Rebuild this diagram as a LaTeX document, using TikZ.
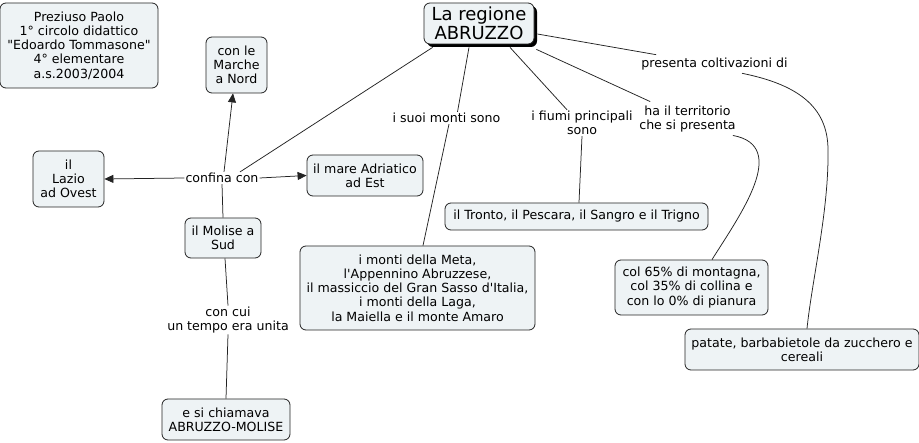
\documentclass[tikz,border=0pt]{standalone}
\usepackage{fontspec}
\setmainfont{DejaVu Sans}[Ligatures=TeXOff]
\usetikzlibrary{arrows.meta,shadows}
\definecolor{boxfill}{RGB}{238,243,245}
\definecolor{edgecol}{RGB}{35,35,35}
\newcommand\mapfont{\fontsize{12.6pt}{14.3pt}\selectfont}
\newcommand\titlefont{\fontsize{18pt}{19.5pt}\selectfont}
\begin{document}
\begin{tikzpicture}[x=1pt,y=-1pt,
  box/.style={draw=edgecol, fill=boxfill, rounded corners=6pt, line width=0.8pt, align=center, inner sep=2pt, font=\mapfont},
  lab/.style={align=center, inner sep=1pt, font=\mapfont},
  conn/.style={draw=edgecol, line width=0.75pt},
  arr/.style={conn, -{Triangle[length=9pt,width=8pt]}},
]
\useasboundingbox (0,0) rectangle (919,443);
\fill[white] (0,0) rectangle (919,443);

% concepts
\node[box, minimum width=158pt, minimum height=85pt] (prez) at (79,45.5) {Preziuso Paolo\\1° circolo didattico\\"Edoardo Tommasone"\\4° elementare\\a.s.2003/2004};
\node[box, minimum width=61pt, minimum height=56pt] (marche) at (236.5,65) {con le\\Marche\\a Nord};
\node[box, font=\titlefont, minimum width=110pt, minimum height=41pt,
  drop shadow={shadow xshift=3pt, shadow yshift=-3pt, fill=black, opacity=1}] (abr) at (479,23.5) {La regione\\ABRUZZO};
\node[box, minimum width=71pt, minimum height=56pt] (lazio) at (68.5,179) {il\\Lazio\\ad Ovest};
\node[box, minimum width=116pt, minimum height=41pt] (adriatico) at (365,175.5) {il mare Adriatico\\ad Est};
\node[box, minimum width=76pt, minimum height=40pt] (molise) at (223,238) {il Molise a\\Sud};
\node[box, minimum width=128pt, minimum height=41pt] (chiamava) at (226,419.5) {e si chiamava\\ABRUZZO-MOLISE};
\node[box, minimum width=235pt, minimum height=84pt] (montib) at (417.5,288) {i monti della Meta,\\l'Appennino Abruzzese,\\il massiccio del Gran Sasso d'Italia,\\i monti della Laga,\\la Maiella e il monte Amaro};
\node[box, minimum width=263pt, minimum height=27pt] (tronto) at (576.5,216.5) {il Tronto, il Pescara, il Sangro e il Trigno};
\node[box, minimum width=153pt, minimum height=55pt] (col65) at (691.5,287.5) {col 65\% di montagna,\\col 35\% di collina e\\con lo 0\% di pianura};
\node[box, minimum width=234pt, minimum height=41pt] (patate) at (802,349.5) {patate, barbabietole da zucchero e\\cereali};

% linking phrases
\node[lab] (confina) at (222,178) {confina con};
\node[lab] (concui) at (228,320) {con cui\\un tempo era unita};
\node[lab] (montil) at (446.5,118) {i suoi monti sono};
\node[lab] (fiumi) at (582,123) {i fiumi principali\\sono};
\node[lab] (terr) at (687.5,119) {ha il territorio\\che si presenta};
\node[lab] (colt) at (714.5,64) {presenta coltivazioni di};

% connectors
\draw[conn] ([xshift=9pt,yshift=-3pt]abr.south west) -- ([xshift=18pt]confina.north);
\draw[arr] ([xshift=2pt]confina.north) -- ([xshift=-3.5pt]marche.south);
\draw[arr] (confina.west) -- (lazio.east);
\draw[arr] (confina.east) -- (adriatico.west);
\draw[conn] (confina.south) -- (molise.north);
\draw[conn] ([xshift=2pt]molise.south) -- (concui.north);
\draw[conn] (concui.south) -- (chiamava.north);

\draw[conn] ([xshift=-10pt,yshift=-3pt]abr.south) -- ([xshift=11pt]montil.north);
\draw[conn] ([xshift=2.5pt]montil.south) -- ([xshift=5.5pt]montib.north);
\draw[conn] ([xshift=31pt,yshift=-3pt]abr.south) -- ([xshift=-15pt]fiumi.north);
\draw[conn] (fiumi.south) -- ([xshift=2.5pt]tronto.north);
\draw[conn] ([xshift=2pt,yshift=-5pt]abr.south east) -- ([xshift=12pt,yshift=3pt]terr.north west);
\draw[conn] ([xshift=3pt,yshift=-10.5pt]abr.east) -- ([xshift=16pt,yshift=2pt]colt.north west);

\draw[conn] ([xshift=-4pt,yshift=-2pt]terr.south east) .. controls (790,146) and (740,215) .. ([xshift=20.5pt]col65.north);
\coordinate (cbend) at (828,150);
\draw[conn] ([xshift=27.5pt,yshift=-2pt]colt.south) .. controls (795,84) and (828,105) .. (cbend)
  .. controls (829,210) and (812,280) .. ([xshift=5pt]patate.north);
\end{tikzpicture}
\end{document}
